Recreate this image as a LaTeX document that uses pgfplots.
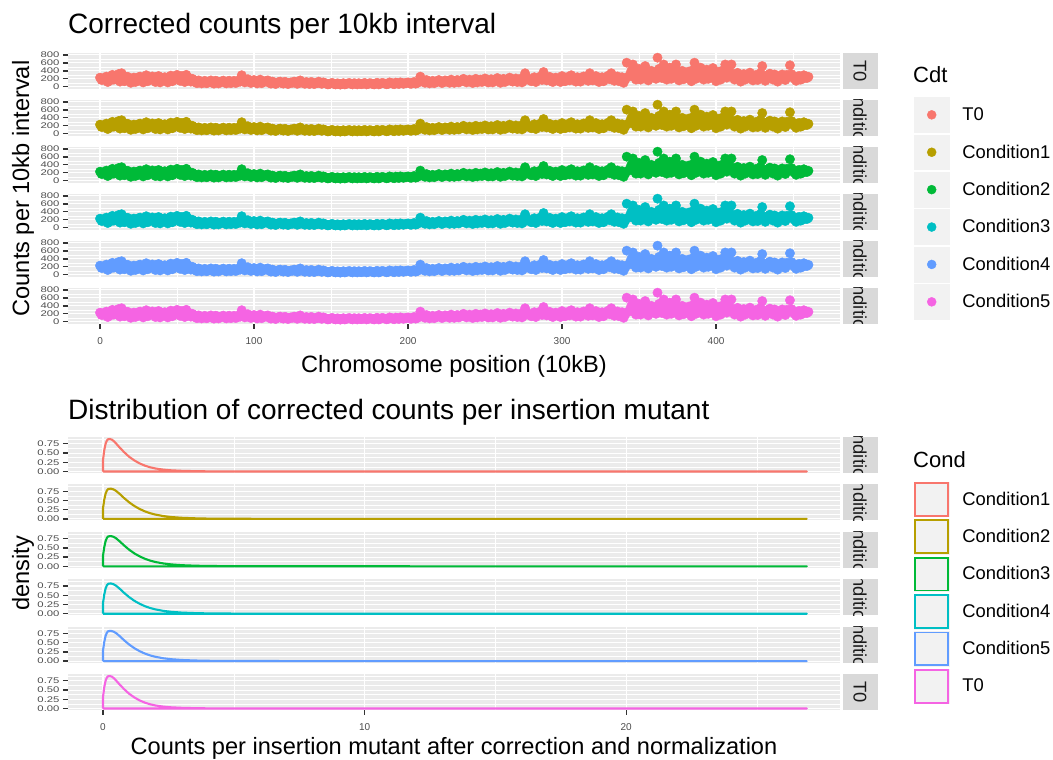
\documentclass[border=0pt]{standalone}
\usepackage{graphicx}
\usepackage{pgfplots}
\pgfplotsset{compat=1.18}
\usepackage{pgfplotstable}
\usepackage{fontspec}
\setmainfont{Liberation Sans}
\newcommand{\fs}[1]{\fontsize{#1}{#1}\selectfont}
\newcommand{\sq}[1]{\scalebox{1}[0.72]{#1}}
\definecolor{cA}{HTML}{F8766D}
\definecolor{cB}{HTML}{B79F00}
\definecolor{cC}{HTML}{00BA38}
\definecolor{cD}{HTML}{00BFC4}
\definecolor{cE}{HTML}{619CFF}
\definecolor{cF}{HTML}{F564E3}
\definecolor{ggbg}{HTML}{EBEBEB}
\definecolor{stripbg}{HTML}{D9D9D9}
\definecolor{striptext}{HTML}{1A1A1A}
\definecolor{keybg}{HTML}{F2F2F2}
\definecolor{tickc}{HTML}{333333}
\definecolor{ticktext}{HTML}{4D4D4D}

\pgfplotstableread{
x y
0 230
2 180
4 255
6 150
8 300
10 200
12 320
14 340
16 140
18 250
20 100
22 230
24 180
26 255
28 110
30 290
32 200
34 260
36 120
38 270
40 190
42 240
44 110
46 280
48 210
50 300
52 150
54 260
56 300
58 180
60 200
62 110
64 160
66 85
68 150
70 100
72 160
74 80
76 140
78 115
80 155
82 85
84 150
86 125
88 95
90 160
92 290
94 110
96 190
98 95
100 170
102 85
104 180
106 125
108 150
110 100
112 130
114 70
116 120
118 95
120 125
122 70
124 110
126 130
128 75
130 160
132 100
134 120
136 70
138 110
140 85
142 130
144 75
146 95
148 60
150 90
152 70
154 85
156 55
158 90
160 75
162 95
164 60
166 80
168 90
170 65
172 95
174 70
176 85
178 60
180 100
182 75
184 90
186 65
188 110
190 80
192 105
194 70
196 100
198 90
200 110
202 75
204 120
206 95
208 255
210 125
212 170
214 85
216 150
218 115
220 170
222 95
224 160
226 125
228 180
230 100
232 170
234 135
236 200
238 110
240 180
242 95
244 200
246 150
248 120
250 210
252 110
254 190
256 160
258 220
260 100
262 200
264 170
266 230
268 130
270 210
272 180
274 110
276 340
278 200
280 140
282 240
284 190
286 260
288 370
290 160
292 250
294 120
296 230
298 200
300 270
302 140
304 250
306 290
308 180
310 240
312 130
314 260
316 210
318 340
320 160
322 270
324 120
326 240
328 200
330 280
332 340
334 150
336 260
338 220
340 100
342 605
344 300
346 560
348 180
350 450
352 280
354 520
356 160
358 400
360 250
362 730
364 300
366 560
368 180
370 480
372 350
374 560
376 160
378 400
380 250
382 380
384 140
386 605
388 300
390 480
392 180
394 430
396 280
398 470
400 140
402 380
404 250
406 560
408 300
410 560
412 180
414 350
416 130
418 320
420 260
422 355
424 160
426 300
428 220
430 520
432 150
434 300
436 240
438 310
440 130
442 280
444 200
446 300
448 540
450 230
452 150
454 270
456 200
458 260
460 250
1 170
3 210
5 120
7 260
9 180
11 240
13 130
15 280
17 200
19 150
21 210
23 120
25 240
27 170
29 220
31 140
33 230
35 180
37 250
39 110
41 220
43 160
45 250
47 140
49 230
51 190
53 270
55 120
57 240
59 130
61 170
63 90
65 140
67 120
69 90
71 135
73 100
75 150
77 85
79 130
81 110
83 140
85 90
87 150
89 110
91 130
93 180
95 150
97 120
99 140
101 110
103 150
105 90
107 130
109 160
111 80
113 110
115 95
117 130
119 80
121 110
123 90
125 100
127 120
129 90
131 110
133 75
135 100
137 120
139 70
141 100
143 90
145 110
147 75
149 70
151 95
153 60
155 80
157 70
159 60
161 85
163 70
165 90
167 60
169 75
171 85
173 60
175 90
177 70
179 85
181 60
183 95
185 80
187 70
189 95
191 65
193 90
195 110
197 75
199 100
201 85
203 105
205 80
207 130
209 140
211 100
213 140
215 120
217 90
219 140
221 130
223 110
225 150
227 100
229 140
231 150
233 110
235 160
237 140
239 150
241 130
243 160
245 110
247 180
249 140
251 160
253 130
255 110
257 180
259 140
261 160
263 120
265 190
267 150
269 170
271 120
273 200
275 150
277 230
279 170
281 200
283 120
285 210
287 170
289 240
291 200
293 150
295 210
297 160
299 120
301 220
303 190
305 160
307 220
309 130
311 200
313 170
315 230
317 150
319 240
321 200
323 160
325 220
327 140
329 250
331 190
333 230
335 200
337 140
339 240
341 180
343 250
345 400
347 250
349 320
351 180
353 300
355 380
357 220
359 330
361 200
363 450
365 220
367 380
369 270
371 200
373 420
375 260
377 330
379 190
381 300
383 240
385 420
387 200
389 350
391 250
393 330
395 200
397 360
399 240
401 300
403 180
405 420
407 230
409 380
411 250
413 290
415 220
417 270
419 180
421 300
423 230
425 260
427 170
429 350
431 250
433 220
435 330
437 180
439 260
441 210
443 310
445 170
447 250
449 320
451 200
453 260
455 180
457 290
459 220
}\counts

\pgfplotstableread{
x y
0 0
0 0.30
0.05 0.58
0.1 0.75
0.15 0.84
0.2 0.875
0.27 0.88
0.35 0.86
0.45 0.80
0.6 0.68
0.8 0.53
1.0 0.40
1.2 0.30
1.4 0.22
1.6 0.16
1.8 0.115
2.0 0.083
2.3 0.052
2.6 0.033
3.0 0.019
3.5 0.010
4.0 0.005
5.0 0.002
7.0 0.001
10 0.0004
15 0.0002
26.9 0
0 0
}\densA

\pgfplotstableread{
x y
0 0
0 0.28
0.05 0.52
0.1 0.68
0.15 0.77
0.2 0.81
0.3 0.82
0.4 0.80
0.5 0.76
0.65 0.67
0.8 0.57
1.0 0.45
1.2 0.35
1.4 0.27
1.6 0.205
1.8 0.155
2.0 0.118
2.3 0.078
2.6 0.052
3.0 0.031
3.5 0.017
4.0 0.009
5.0 0.004
7.0 0.0015
10 0.0006
15 0.0002
26.9 0
0 0
}\densB

\pgfplotsset{
  ggbase/.style={
    scale only axis, width=772pt, height=36pt,
    anchor=south west,
    axis background/.style={fill=ggbg},
    axis line style={draw=none},
    grid=both,
    major grid style={draw=white, line width=1.1pt},
    minor grid style={draw=white, line width=0.55pt},
    tick align=outside,
    major tick length=5pt,
    minor tick length=0pt,
    every tick/.style={draw=tickc, line width=1.3pt},
    tick pos=left,
    tick label style={text=ticktext},
    xticklabel style={font=\fs{10}, yshift=-5pt},
    yticklabel style={font=\fs{11.3}},
    /pgf/number format/assume math mode=true,
    legend style={draw=none, fill=none, inner sep=0pt, outer sep=0pt,
      row sep=2.3pt, column sep=13pt, anchor=north west,
      nodes={inner sep=0pt, font=\fs{18.4}, anchor=west}},
    legend cell align=left,
  },
  topp/.style={ggbase, xmin=-20.8, xmax=480.5, ymin=-55, ymax=848,
    xtick={0,100,200,300,400}, minor xtick={50,150,250,350,450},
    ytick={0,200,400,600,800}, minor ytick={100,300,500,700},
    yticklabels={\sq{0},\sq{200},\sq{400},\sq{600},\sq{800}}},
  botp/.style={ggbase, xmin=-1.336, xmax=28.17, ymin=-0.04, ymax=0.935,
    xtick={0,10,20}, minor xtick={5,15,25},
    ytick={0,0.25,0.5,0.75}, minor ytick={0.125,0.375,0.625,0.875},
    yticklabels={\sq{0.00},\sq{0.25},\sq{0.50},\sq{0.75}}},
  pts/.style={only marks, mark=*, mark size=4.7pt, mark options={draw=none}},
  dens/.style={no marks, line width=2.1pt, line join=round},
}

\newcommand{\strip}[2]{%
  \begin{scope}
    \fill[stripbg] (842.5,#1) rectangle (877.5,#1+36);
    \clip (842.5,#1) rectangle (877.5,#1+36);
    \node[rotate=-90, font=\fs{18.4}, text=striptext, inner sep=0pt] at (860,#1+18) {#2};
  \end{scope}}

\newcommand{\ptkey}[1]{\addlegendimage{legend image code/.code={\fill[keybg] (0pt,-17.35pt) rectangle (35pt,17.35pt); \fill[#1] (17.5pt,0pt) circle (4.5pt);}}}
\newcommand{\lnkey}[1]{\addlegendimage{legend image code/.code={\fill[keybg] (0pt,-17.35pt) rectangle (35pt,17.35pt); \draw[#1, line width=1.8pt] (0.9pt,-16.45pt) rectangle (34.1pt,16.45pt);}}}

\begin{document}
\begin{tikzpicture}[x=1pt,y=1pt]
\path[use as bounding box] (0,0) rectangle (1053,760);

% ---------- top plot ----------
\node[anchor=base west, font=\fs{28}, inner sep=0pt] at (68,726) {Corrected counts per 10kb interval};

\begin{axis}[topp, at={(68pt,671pt)}, xmajorticks=false,
  legend style={at={(1.09585,-0.2306)}}]
\addplot[pts, color=cA, forget plot] table {\counts};
\ptkey{cA}\addlegendentry{T0}
\ptkey{cB}\addlegendentry{Condition1}
\ptkey{cC}\addlegendentry{Condition2}
\ptkey{cD}\addlegendentry{Condition3}
\ptkey{cE}\addlegendentry{Condition4}
\ptkey{cF}\addlegendentry{Condition5}
\end{axis}
\begin{axis}[topp, at={(68pt,624pt)}, xmajorticks=false]
\addplot[pts, color=cB] table {\counts};
\end{axis}
\begin{axis}[topp, at={(68pt,577pt)}, xmajorticks=false]
\addplot[pts, color=cC] table {\counts};
\end{axis}
\begin{axis}[topp, at={(68pt,530pt)}, xmajorticks=false]
\addplot[pts, color=cD] table {\counts};
\end{axis}
\begin{axis}[topp, at={(68pt,483pt)}, xmajorticks=false]
\addplot[pts, color=cE] table {\counts};
\end{axis}
\begin{axis}[topp, at={(68pt,436pt)}]
\addplot[pts, color=cF] table {\counts};
\end{axis}

\strip{671}{T0}
\strip{624}{Condition1}
\strip{577}{Condition2}
\strip{530}{Condition3}
\strip{483}{Condition4}
\strip{436}{Condition5}

\node[anchor=base, font=\fs{23.6}, inner sep=0pt] at (454,387) {Chromosome position (10kB)};
\node[anchor=base, rotate=90, font=\fs{23.6}, inner sep=0pt] at (29,571.5) {Counts per 10kb interval};
\node[anchor=base west, font=\fs{22}, inner sep=0pt] at (913,677.7) {Cdt};

% ---------- bottom plot ----------
\node[anchor=base west, font=\fs{28}, inner sep=0pt] at (68,340) {Distribution of corrected counts per insertion mutant};

\begin{axis}[botp, at={(68pt,287pt)}, xmajorticks=false,
  legend style={at={(1.09585,-0.2417)}}]
\addplot[dens, color=cA, forget plot] table {\densA};
\lnkey{cA}\addlegendentry{Condition1}
\lnkey{cB}\addlegendentry{Condition2}
\lnkey{cC}\addlegendentry{Condition3}
\lnkey{cD}\addlegendentry{Condition4}
\lnkey{cE}\addlegendentry{Condition5}
\lnkey{cF}\addlegendentry{T0}
\end{axis}
\begin{axis}[botp, at={(68pt,239.6pt)}, xmajorticks=false]
\addplot[dens, color=cB] table {\densB};
\end{axis}
\begin{axis}[botp, at={(68pt,192.2pt)}, xmajorticks=false]
\addplot[dens, color=cC] table {\densB};
\end{axis}
\begin{axis}[botp, at={(68pt,144.8pt)}, xmajorticks=false]
\addplot[dens, color=cD] table {\densB};
\end{axis}
\begin{axis}[botp, at={(68pt,97.4pt)}, xmajorticks=false]
\addplot[dens, color=cE] table {\densB};
\end{axis}
\begin{axis}[botp, at={(68pt,50pt)}]
\addplot[dens, color=cF] table {\densA};
\end{axis}

\strip{287}{Condition1}
\strip{239.6}{Condition2}
\strip{192.2}{Condition3}
\strip{144.8}{Condition4}
\strip{97.4}{Condition5}
\strip{50}{T0}

\node[anchor=base, font=\fs{23.6}, inner sep=0pt] at (454,5) {Counts per insertion mutant after correction and normalization};
\node[anchor=base, rotate=90, font=\fs{23.6}, inner sep=0pt] at (29,186.5) {density};
\node[anchor=base west, font=\fs{22}, inner sep=0pt] at (913,292.7) {Cond};
\end{tikzpicture}
\end{document}
